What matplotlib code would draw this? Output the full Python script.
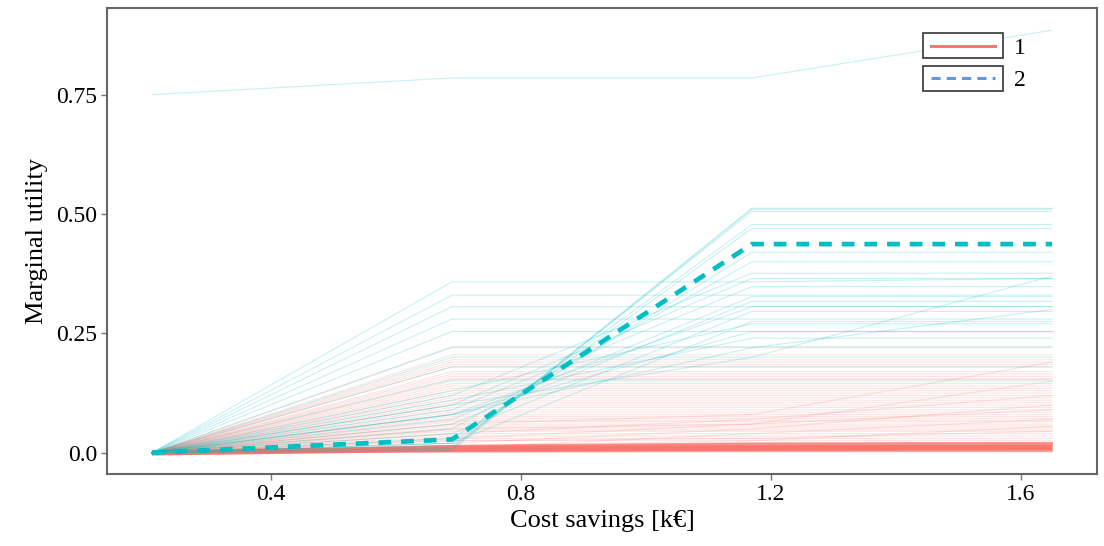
import matplotlib
matplotlib.use("Agg")
import matplotlib.pyplot as plt
from matplotlib.patches import Rectangle
from matplotlib.lines import Line2D

plt.rcParams['font.family'] = ['Liberation Serif', 'DejaVu Serif']

# breakpoints on the cost savings axis
x_knots = [0.21, 0.69, 1.17, 1.65]

# group 1 (red) marginal utility curves, one row per sample
group1_curves = [
    [0, 0.220, 0.220, 0.220],
    [0, 0.205, 0.205, 0.205],
    [0, 0.195, 0.195, 0.195],
    [0, 0.190, 0.190, 0.190],
    [0, 0.185, 0.185, 0.185],
    [0, 0.180, 0.180, 0.180],
    [0, 0.170, 0.170, 0.170],
    [0, 0.165, 0.165, 0.165],
    [0, 0.160, 0.160, 0.160],
    [0, 0.155, 0.155, 0.155],
    [0, 0.150, 0.150, 0.150],
    [0, 0.145, 0.145, 0.145],
    [0, 0.140, 0.140, 0.140],
    [0, 0.135, 0.135, 0.135],
    [0, 0.130, 0.130, 0.130],
    [0, 0.125, 0.125, 0.125],
    [0, 0.120, 0.120, 0.120],
    [0, 0.115, 0.115, 0.115],
    [0, 0.110, 0.110, 0.110],
    [0, 0.105, 0.105, 0.105],
    [0, 0.100, 0.100, 0.100],
    [0, 0.095, 0.095, 0.095],
    [0, 0.090, 0.090, 0.090],
    [0, 0.085, 0.085, 0.085],
    [0, 0.080, 0.080, 0.080],
    [0, 0.076, 0.076, 0.076],
    [0, 0.072, 0.072, 0.072],
    [0, 0.068, 0.068, 0.068],
    [0, 0.065, 0.065, 0.065],
    [0, 0.060, 0.060, 0.060],
    [0, 0.056, 0.056, 0.056],
    [0, 0.052, 0.052, 0.052],
    [0, 0.048, 0.048, 0.048],
    [0, 0.045, 0.045, 0.045],
    [0, 0.040, 0.040, 0.040],
    [0, 0.035, 0.035, 0.035],
    [0, 0.030, 0.030, 0.030],
    [0, 0.026, 0.026, 0.026],
    [0, 0.060, 0.080, 0.190],
    [0, 0.030, 0.060, 0.150],
    [0, 0.020, 0.050, 0.100],
    [0, 0.010, 0.040, 0.070],
    [0, 0.040, 0.070, 0.120],
    [0, 0.025, 0.030, 0.045],
    [0, 0.015, 0.025, 0.055],
    [0, 0.050, 0.060, 0.090],
]
# group 1 curves packed near zero (the solid band)
group1_band = [
    [0, 0.002, 0.003, 0.003],
    [0, 0.004, 0.005, 0.005],
    [0, 0.005, 0.007, 0.008],
    [0, 0.007, 0.009, 0.010],
    [0, 0.008, 0.011, 0.012],
    [0, 0.010, 0.013, 0.014],
    [0, 0.011, 0.015, 0.016],
    [0, 0.012, 0.017, 0.018],
    [0, 0.014, 0.019, 0.020],
    [0, 0.015, 0.020, 0.021],
]
group1_mean = [0, 0.008, 0.010, 0.011]

# group 2 (cyan) marginal utility curves
group2_curves = [
    [0.75, 0.785, 0.785, 0.885],
    [0, 0.005, 0.510, 0.510],
    [0, 0.008, 0.512, 0.512],
    [0, 0.010, 0.505, 0.505],
    [0, 0.020, 0.478, 0.478],
    [0, 0.015, 0.470, 0.470],
    [0, 0.030, 0.420, 0.420],
    [0, 0.050, 0.400, 0.400],
    [0, 0.358, 0.358, 0.365],
    [0, 0.330, 0.330, 0.330],
    [0, 0.306, 0.306, 0.306],
    [0, 0.280, 0.280, 0.280],
    [0, 0.254, 0.254, 0.254],
    [0, 0.222, 0.222, 0.222],
    [0, 0.200, 0.200, 0.200],
    [0, 0.180, 0.180, 0.180],
    [0, 0.153, 0.153, 0.153],
    [0, 0.120, 0.376, 0.376],
    [0, 0.100, 0.365, 0.365],
    [0, 0.090, 0.348, 0.348],
    [0, 0.070, 0.327, 0.327],
    [0, 0.060, 0.317, 0.317],
    [0, 0.080, 0.306, 0.306],
    [0, 0.040, 0.296, 0.296],
    [0, 0.020, 0.275, 0.275],
    [0, 0.130, 0.270, 0.270],
    [0, 0.080, 0.254, 0.254],
    [0, 0.110, 0.240, 0.240],
    [0, 0.100, 0.200, 0.370],
    [0, 0.080, 0.220, 0.300],
]
group2_mean = [0, 0.028, 0.437, 0.437]

legend_labels = ['1', '2']

red = '#F8766D'
cyan = '#00BFC4'

fig = plt.figure(figsize=(11.04, 5.46), dpi=100)
ax = fig.add_axes([107 / 1104, 1 - 474 / 546, 990 / 1104, 466 / 546])

for row in group1_curves:
    ax.plot(x_knots, row, color=red, lw=0.8, alpha=0.2)
for row in group1_band:
    ax.plot(x_knots, row, color=red, lw=1.2, alpha=0.6)
ax.plot(x_knots, group1_mean, color=red, lw=4.0, solid_capstyle='butt')

for row in group2_curves:
    ax.plot(x_knots, row, color=cyan, lw=0.8, alpha=0.22)
ax.plot(x_knots, group2_mean, color=cyan, lw=3.4, dashes=(2.7, 2.1))

ax.set_xlim(0.138, 1.722)
ax.set_ylim(-0.0445, 0.9315)
ax.set_xticks([0.4, 0.8, 1.2, 1.6])
ax.set_xticklabels(['0.4', '0.8', '1.2', '1.6'])
ax.set_yticks([0.0, 0.25, 0.5, 0.75])
ax.set_yticklabels(['0.0', '0.25', '0.50', '0.75'])
ax.tick_params(axis='both', labelsize=17, color='#777777', length=4, width=1,
               labelcolor='black', pad=3)
for s in ax.spines.values():
    s.set_color('#666666')
    s.set_linewidth(1.5)

ax.set_xlabel('Cost savings [k€]', fontsize=19, labelpad=4)
ax.set_ylabel('Marginal utility', fontsize=19, labelpad=6)

# legend keys drawn as separate framed boxes
key_styles = [dict(color=red, lw=2.2, ls='-'),
              dict(color='#6495ED', lw=2.2, dashes=(3, 2))]
box_tops = [0.946, 0.8755]
for lab, sty, top in zip(legend_labels, key_styles, box_tops):
    ax.add_patch(Rectangle((0.824, top - 0.053), 0.081, 0.053, transform=ax.transAxes,
                           facecolor='white', edgecolor='#333333', lw=1.2, zorder=5))
    ax.add_line(Line2D([0.832, 0.897], [top - 0.0265] * 2, transform=ax.transAxes,
                       zorder=6, **sty))
    ax.text(0.916, top - 0.032, lab, transform=ax.transAxes, fontsize=17,
            va='center', ha='left', zorder=6)

fig.savefig('out.png', dpi=100)
